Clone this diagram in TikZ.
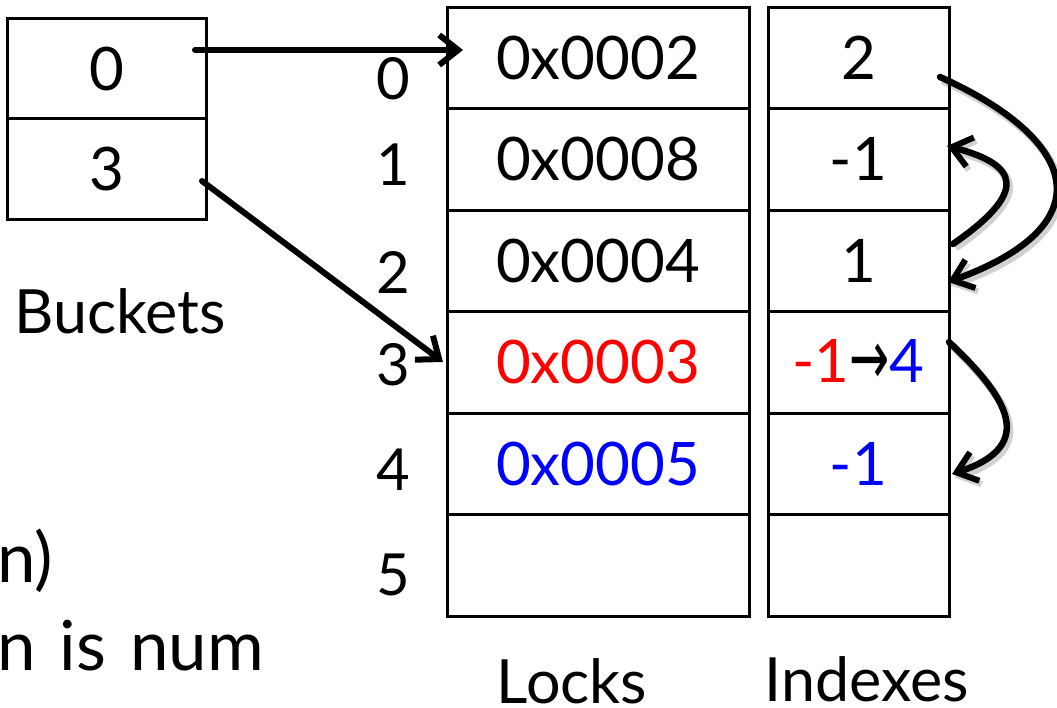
\documentclass[tikz,border=0pt]{standalone}
\usepackage{fontspec}
\setmainfont{Lato}
\newfontfamily\symfont{DejaVu Sans}
\usetikzlibrary{arrows.meta,calc}

\begin{document}
\begin{tikzpicture}[x=1pt,y=-1pt,
  cell/.style={draw, line width=3pt, minimum height=101.5pt, inner sep=0pt,
    font=\fontsize{60}{72}\selectfont},
  lockcell/.style={cell, minimum width=302pt},
  idxcell/.style={cell, minimum width=181pt},
  bucketcell/.style={cell, minimum width=199pt, minimum height=100.5pt},
  rowlbl/.style={inner sep=0pt, font=\fontsize{58}{70}\selectfont},
  caption/.style={inner sep=0pt, anchor=base, font=\fontsize{61}{72}\selectfont},
  bodytext/.style={inner sep=0pt, anchor=base west, font=\fontsize{69}{80}\selectfont},
  ptr/.style={line width=6pt, line cap=round,
    -{Straight Barb[length=19pt,width=30pt,line width=6pt]}},
  link/.style={ptr, line width=6.5pt,
    preaction={draw=black, opacity=0.18, line width=8pt,
      transform canvas={shift={(2.5,3.5)}}}},
]
\useasboundingbox (0,0) rectangle (1057,707);

% bucket table
\node[bucketcell] (b0) at (106.5,68.5) {0};
\node[bucketcell] (b1) at (106.5,169) {3};
\node[caption] (bl) at (120,333) {Buckets};

% lock table with row numbers
\foreach \i/\t/\c in {0/0x0002/black,1/0x0008/black,2/0x0004/black,
                      3/0x0003/red,4/0x0005/blue,5/{}/black}
  \node[lockcell, text=\c] (l\i) at (598,{57.75+101.5*\i}) {\t};
\node[caption] (ll) at (572,703) {Locks};

\foreach \i/\y in {0/79,1/165,2/272,3/365,4/470,5/575}
  \node[rowlbl] (r\i) at (393,\y) {\i};

% index table
\foreach \i/\t/\c in {0/2/black,1/-1/black,2/1/black,4/-1/blue,5/{}/black}
  \node[idxcell, text=\c] (x\i) at (858.5,{57.75+101.5*\i}) {\t};
\node[idxcell] (x3) at (858.5,{57.75+101.5*3})
  {\textcolor{red}{-1}\raisebox{-2pt}{\scalebox{1}[1.6]{\symfont\fontsize{48}{56}\selectfont →}}\textcolor{blue}{4}};
\node[caption] (xl) at (867,701) {Indexes};

% text running in from the left
\node[bodytext] (t1) at (-3,582) {n)};
\node[bodytext] (t2) at (-3,670) {n\hspace{24pt}is\hspace{24pt}num};

% bucket pointers
\coordinate (p0) at (195,50);
\coordinate (q0) at (463,50);
\coordinate (p1) at (202,181);
\coordinate (q1) at (443,362);
\draw[ptr] (p0) -- (q0);
\draw[ptr] (p1) -- (q1);

% chain links between index entries
\coordinate (c0) at (940,77);
\coordinate (c1) at (947,146);
\coordinate (c2a) at (953,244);
\coordinate (c2) at (948,282);
\coordinate (c3) at (949,342);
\coordinate (c4) at (952,474);
\draw[link] (c0) .. controls (1080,140) and (1105,225) .. (c2);
\draw[link] (c2a) .. controls (1028,192) and (1020,165) .. (c1);
\draw[link] (c3) .. controls (1005,395) and (1040,445) .. (c4);
\end{tikzpicture}
\end{document}
